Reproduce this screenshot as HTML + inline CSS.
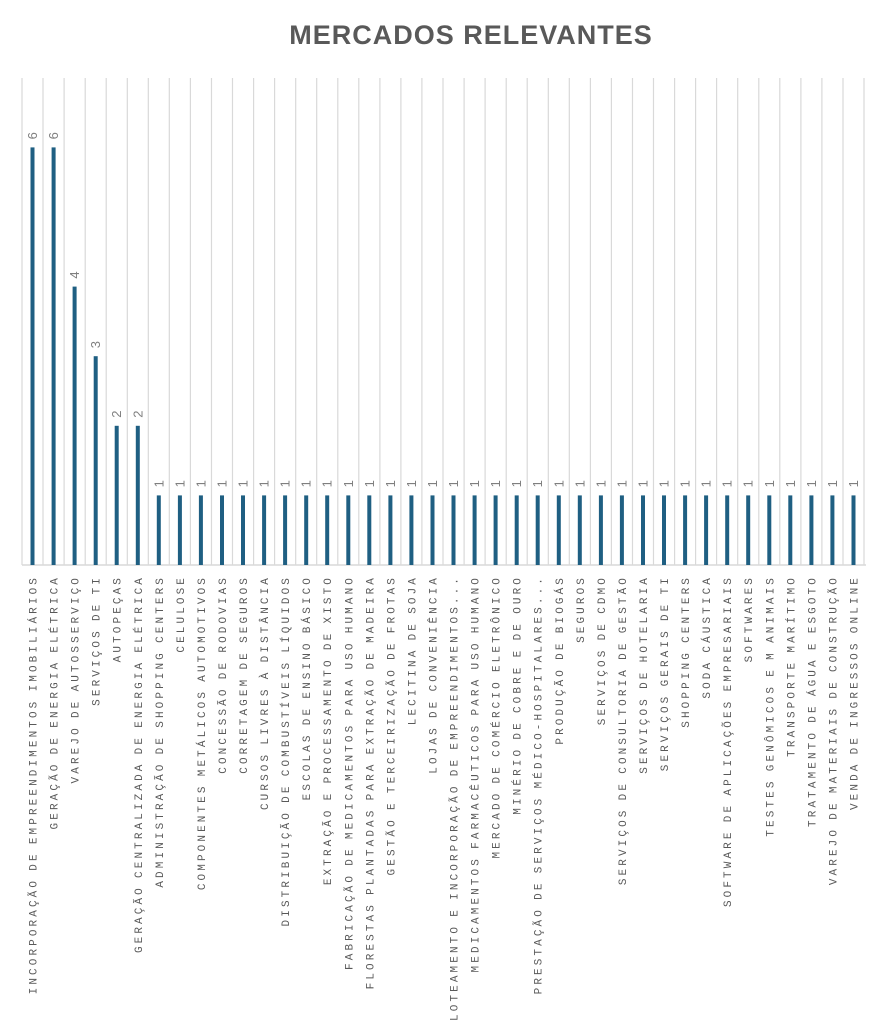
<!DOCTYPE html>
<html><head><meta charset="utf-8"><style>
html,body{margin:0;padding:0;background:#fff;}
svg{display:block;}
.t{font-family:"Liberation Sans",sans-serif;font-weight:bold;font-size:27px;fill:#595959;letter-spacing:1px;}
.c{font-family:"Liberation Mono",monospace;font-size:11px;fill:#595959;letter-spacing:3.1px;word-spacing:-2.5px;}
.v{font-family:"Liberation Sans",sans-serif;font-size:13px;fill:#7f7f7f;}
</style></head><body>
<svg width="885" height="1024" xmlns="http://www.w3.org/2000/svg">
<text class="t" x="471" y="44" text-anchor="middle">MERCADOS RELEVANTES</text>
<g id="g"></g>
</svg>
<script>
var cats=[["INCORPORAÇÃO DE EMPREENDIMENTOS IMOBILIÁRIOS",6],["GERAÇÃO DE ENERGIA ELÉTRICA",6],["VAREJO DE AUTOSSERVIÇO",4],["SERVIÇOS DE TI",3],["AUTOPEÇAS",2],["GERAÇÃO CENTRALIZADA DE ENERGIA ELÉTRICA",2],["ADMINISTRAÇÃO DE SHOPPING CENTERS",1],["CELULOSE",1],["COMPONENTES METÁLICOS AUTOMOTIVOS",1],["CONCESSÃO DE RODOVIAS",1],["CORRETAGEM DE SEGUROS",1],["CURSOS LIVRES À DISTÂNCIA",1],["DISTRIBUIÇÃO DE COMBUSTÍVEIS LÍQUIDOS",1],["ESCOLAS DE ENSINO BÁSICO",1],["EXTRAÇÃO E PROCESSAMENTO DE XISTO",1],["FABRICAÇÃO DE MEDICAMENTOS PARA USO HUMANO",1],["FLORESTAS PLANTADAS PARA EXTRAÇÃO DE MADEIRA",1],["GESTÃO E TERCEIRIZAÇÃO DE FROTAS",1],["LECITINA DE SOJA",1],["LOJAS DE CONVENIÊNCIA",1],["LOTEAMENTO E INCORPORAÇÃO DE EMPREENDIMENTOS...",1],["MEDICAMENTOS FARMACÊUTICOS PARA USO HUMANO",1],["MERCADO DE COMÉRCIO ELETRÔNICO",1],["MINÉRIO DE COBRE E DE OURO",1],["PRESTAÇÃO DE SERVIÇOS MÉDICO-HOSPITALARES...",1],["PRODUÇÃO DE BIOGÁS",1],["SEGUROS",1],["SERVIÇOS DE CDMO",1],["SERVIÇOS DE CONSULTORIA DE GESTÃO",1],["SERVIÇOS DE HOTELARIA",1],["SERVIÇOS GERAIS DE TI",1],["SHOPPING CENTERS",1],["SODA CÁUSTICA",1],["SOFTWARE DE APLICAÇÕES EMPRESARIAIS",1],["SOFTWARES",1],["TESTES GENÔMICOS E M ANIMAIS",1],["TRANSPORTE MARÍTIMO",1],["TRATAMENTO DE ÁGUA E ESGOTO",1],["VAREJO DE MATERIAIS DE CONSTRUÇÃO",1],["VENDA DE INGRESSOS ONLINE",1]];
var s="",step=21.05,x0=22,base=565,u=69.6;
for(var k=0;k<=40;k++){var gx=(x0+k*step).toFixed(1);s+='<line x1="'+gx+'" y1="78" x2="'+gx+'" y2="'+base+'" stroke="#d9d9d9" stroke-width="1.2"/>';}
s+='<line x1="'+x0+'" y1="'+base+'" x2="866" y2="'+base+'" stroke="#d9d9d9" stroke-width="1.5"/>';
cats.forEach(function(c,i){var cx=x0+step/2+i*step,h=c[1]*u;
s+='<rect x="'+(cx-2).toFixed(1)+'" y="'+(base-h).toFixed(1)+'" width="4" height="'+h.toFixed(1)+'" fill="#1f5f82"/>';
s+='<text class="v" transform="translate('+(cx+4.5).toFixed(1)+','+(base-h-8).toFixed(1)+') rotate(-90)">'+c[1]+'</text>';
s+='<text class="c" text-anchor="end" transform="translate('+(cx+4).toFixed(1)+',575) rotate(-90)">'+c[0]+'</text>';});
document.getElementById("g").innerHTML=s;
</script>
</body></html>
